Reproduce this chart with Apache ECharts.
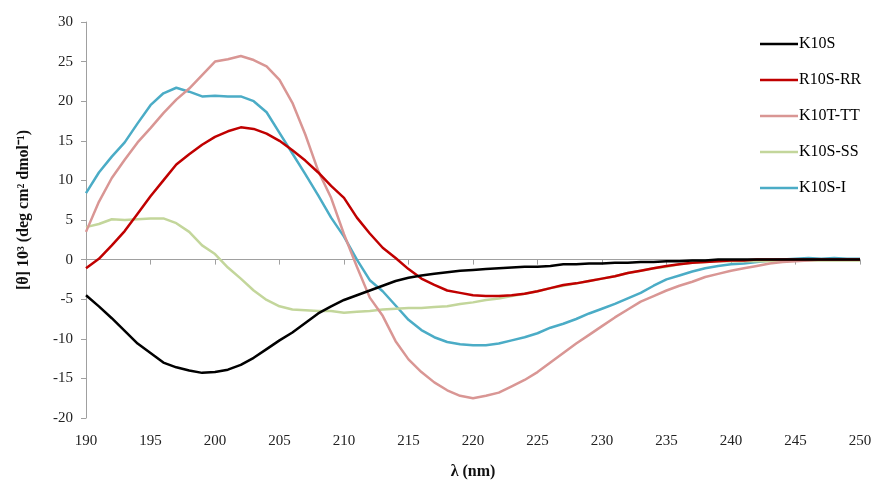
<!DOCTYPE html>
<html><head><meta charset="utf-8">
<script src="https://cdn.jsdelivr.net/npm/echarts@6/dist/echarts.min.js"></script>
<style>html,body{margin:0;padding:0;background:#fff}#c{width:878px;height:484px}</style>
</head><body><div id="c"></div>
<script>
const wavelengths = [];
for (let w = 190; w <= 250; w++) wavelengths.push(w);

const K10S = [-4.5,-5.9,-7.4,-9.0,-10.6,-11.8,-13.0,-13.6,-14.0,-14.3,-14.2,-13.9,-13.3,-12.4,-11.3,-10.2,-9.2,-8.0,-6.8,-5.9,-5.1,-4.5,-3.9,-3.3,-2.7,-2.3,-2.0,-1.8,-1.6,-1.4,-1.3,-1.2,-1.1,-1.0,-0.9,-0.9,-0.8,-0.6,-0.6,-0.5,-0.5,-0.4,-0.4,-0.3,-0.3,-0.2,-0.2,-0.1,-0.1,0,0,0,0,0,0,0,0,0,0,0,0];
const R10S_RR = [-1.1,0.1,1.8,3.6,5.8,8.0,10.0,12.0,13.3,14.5,15.5,16.2,16.7,16.5,15.9,15.0,13.8,12.5,11.0,9.3,7.8,5.3,3.3,1.5,0.2,-1.2,-2.4,-3.2,-3.9,-4.2,-4.5,-4.6,-4.6,-4.5,-4.3,-4.0,-3.6,-3.2,-3.0,-2.7,-2.4,-2.1,-1.7,-1.4,-1.1,-0.8,-0.6,-0.4,-0.3,-0.2,-0.1,-0.1,0,0,0,0,0,0,0,0,0];
const K10T_TT = [3.5,7.3,10.3,12.6,14.8,16.6,18.5,20.2,21.6,23.3,25.0,25.3,25.7,25.2,24.4,22.7,19.8,15.8,11.2,7.8,3.2,-0.9,-4.8,-7.1,-10.3,-12.6,-14.2,-15.5,-16.5,-17.2,-17.5,-17.2,-16.8,-16.0,-15.2,-14.2,-13.0,-11.8,-10.6,-9.5,-8.4,-7.3,-6.3,-5.3,-4.6,-3.9,-3.3,-2.8,-2.2,-1.8,-1.4,-1.1,-0.8,-0.5,-0.3,-0.2,-0.1,0,0,0,0];
const K10S_SS = [4.1,4.5,5.1,5.0,5.1,5.2,5.2,4.6,3.5,1.8,0.7,-1.0,-2.4,-3.9,-5.1,-5.9,-6.3,-6.4,-6.5,-6.5,-6.7,-6.6,-6.5,-6.3,-6.2,-6.1,-6.1,-6.0,-5.9,-5.6,-5.4,-5.1,-4.9,-4.6,-4.3,-4.0,-3.6,-3.3,-3.0,-2.7,-2.4,-2.1,-1.7,-1.4,-1.1,-0.9,-0.6,-0.4,-0.3,-0.2,-0.2,-0.2,-0.2,-0.2,-0.2,-0.1,-0.1,-0.1,-0.1,-0.1,-0.1];
const K10S_I = [8.4,11.0,13.0,14.8,17.2,19.5,21.0,21.7,21.2,20.6,20.7,20.6,20.6,20.0,18.6,16.0,13.4,10.8,8.1,5.3,2.9,0,-2.6,-4.0,-5.8,-7.6,-8.9,-9.8,-10.4,-10.7,-10.8,-10.8,-10.6,-10.2,-9.8,-9.3,-8.6,-8.1,-7.5,-6.8,-6.2,-5.6,-4.9,-4.2,-3.3,-2.5,-2.0,-1.5,-1.1,-0.8,-0.6,-0.5,-0.3,-0.1,0,0.1,0.2,0.1,0.2,0.1,0.1];

const seriesNames = ['K10S','R10S-RR','K10T-TT','K10S-SS','K10S-I'];
const seriesData = [K10S, R10S_RR, K10T_TT, K10S_SS, K10S_I];
const colors = ['#000000','#c00000','#d99694','#c3d69b','#4bacc6'];

const FONT = 'Liberation Serif';
const chart = echarts.init(document.getElementById('c'));
chart.setOption({
  animation: false,
  textStyle: {fontFamily: FONT},
  grid: {left: 86, right: 18, top: 22, bottom: 66, containLabel: false, outerBoundsMode: 'none'},
  legend: {
    orient: 'vertical', left: 755, top: 31, itemWidth: 38, itemHeight: 14, itemGap: 20,
    data: seriesNames, icon: 'path://M0,0 H38 V2.5 H0 Z',
    textStyle: {fontFamily: FONT, fontSize: 16, color: '#000', padding: [0,0,0,-4]}
  },
  xAxis: [
    {type: 'value', min: 190, max: 250, interval: 5, position: 'bottom',
     axisLine: {show: false, onZero: false}, axisTick: {show: false}, splitLine: {show: false},
     axisLabel: {fontFamily: FONT, fontSize: 15, color: '#222', margin: 16},
     name: 'λ (nm)', nameLocation: 'middle', nameGap: 46,
     nameTextStyle: {fontFamily: FONT, fontSize: 16, fontWeight: 'bold', color: '#111'}},
    {type: 'value', min: 190, max: 250, interval: 5, position: 'bottom',
     axisLine: {show: true, onZero: true, lineStyle: {color: '#a0a0a0', width: 1}},
     axisTick: {show: true, inside: false, length: 5, lineStyle: {color: '#a0a0a0'}},
     axisLabel: {show: false}, splitLine: {show: false}}
  ],
  yAxis: {
    type: 'value', min: -20, max: 30, interval: 5,
    axisLine: {show: true, onZero: false, lineStyle: {color: '#a0a0a0', width: 1}},
    axisTick: {show: true, inside: false, length: 5, lineStyle: {color: '#a0a0a0'}},
    splitLine: {show: false},
    axisLabel: {fontFamily: FONT, fontSize: 15, color: '#222', margin: 13},
    name: '[θ] 10³ (deg cm² dmol⁻¹)', nameLocation: 'middle', nameGap: 54, nameRotate: 90,
    nameTextStyle: {fontFamily: FONT, fontSize: 16, fontWeight: 'bold', color: '#111', padding: [0,0,0,20]}
  },
  series: seriesNames.map((n, i) => ({
    name: n, type: 'line', xAxisIndex: 0, symbol: 'none', showSymbol: false,
    data: wavelengths.map((w, j) => [w, seriesData[i][j]]),
    lineStyle: {color: colors[i], width: 2.5}, itemStyle: {color: colors[i]}, z: 10 - i
  }))
});
</script></body></html>
